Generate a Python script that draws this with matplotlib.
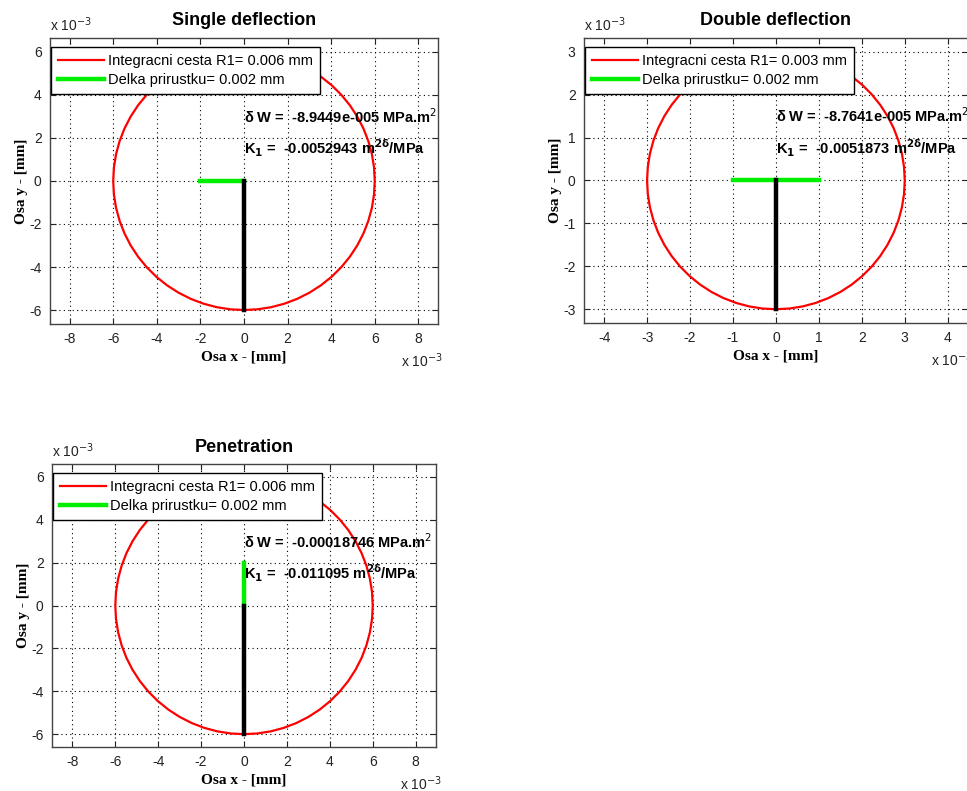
import numpy as np
import matplotlib
matplotlib.use("Agg")
import matplotlib.pyplot as plt

plt.rcParams['font.family'] = ['Liberation Sans', 'DejaVu Sans']

# data for the three cases (values in metres)
titles = ["Single deflection", "Double deflection", "Penetration"]
r1 = [0.006, 0.003, 0.006]                      # radius of integration path
incr_len = [0.002, 0.002, 0.002]                # crack increment length
incr_x = [[-0.002, 0.0], [-0.001, 0.001], [0.0, 0.0]]
incr_y = [[0.0, 0.0], [0.0, 0.0], [0.0, 0.002]]
crack_x = [[0.0, 0.0], [0.0, 0.0], [0.0, 0.0]]
crack_y = [[0.0, -0.006], [0.0, -0.003], [0.0, -0.006]]
dW = ["-8.9449e-005", "-8.7641e-005", "-0.00018746"]
K1 = ["-0.0052943", "-0.0051873", "-0.011095"]

xlims = [0.0089, 0.00447, 0.00895]
ylims = [0.00665, 0.00332, 0.0066]
tick_step = [0.002, 0.001, 0.002]

# axes positions [left, bottom, width, height] in figure fraction
positions = [
    [0.0517, 0.5904, 0.4012, 0.3616],
    [0.6039, 0.5917, 0.3970, 0.3603],
    [0.0538, 0.0556, 0.3971, 0.3578],
]

fig = plt.figure(figsize=(9.67, 7.91), dpi=100)

for i in range(3):
    ax = fig.add_axes(positions[i])
    R = r1[i]
    t = np.linspace(-np.pi / 2, 3 * np.pi / 2, 61)
    ax.plot(R * np.cos(t), R * np.sin(t), color='red', lw=1.6,
            label=f"Integracni cesta R1= {R:g} mm")
    ax.plot(incr_x[i], incr_y[i], color='#00ee00', lw=3.2,
            label=f"Delka prirustku= {incr_len[i]:g} mm")
    ax.plot(crack_x[i], crack_y[i], color='black', lw=3.2)

    ax.set_xlim(-xlims[i], xlims[i])
    ax.set_ylim(-ylims[i], ylims[i])
    st = tick_step[i]
    xt = np.arange(-4, 5) * st
    yt = np.arange(-3, 4) * st
    ax.set_xticks(xt)
    ax.set_yticks(yt)
    ax.set_xticklabels([f"{v * 1e3:g}" for v in xt])
    ax.set_yticklabels([f"{v * 1e3:g}" for v in yt])
    ax.tick_params(direction='in', top=True, right=True, length=4,
                   labelsize=10, colors='#222222', pad=6)
    for sp in ax.spines.values():
        sp.set_color('#444444')
        sp.set_linewidth(1.0)
    ax.grid(True, linestyle=(0, (1, 3)), color='black', lw=0.8)

    ax.set_title(titles[i], fontsize=13, fontweight='bold', pad=9)
    ax.set_xlabel("Osa x - [mm]", family='Liberation Serif',
                  fontweight='bold', fontsize=11, labelpad=3)
    ax.set_ylabel("Osa y - [mm]", family='Liberation Serif',
                  fontweight='bold', fontsize=11, labelpad=1)

    ax.text(0, R / 2, f"δ W =  {dW[i]} MPa.m$^2$", fontsize=10.5,
            fontweight='bold', va='center', ha='left')
    ax.text(0, R / 4, f"K$_\\mathbf{{1}}$ =  {K1[i]} m$^{{\\mathbf{{2δ}}}}$/MPa",
            fontsize=10.5, fontweight='bold', va='center', ha='left')

    ax.text(0.0, 1.015, "x 10$^{-3}$", transform=ax.transAxes,
            fontsize=10, ha='left', va='bottom', color='#222222')
    ax.text(0.905, -0.095, "x 10$^{-3}$", transform=ax.transAxes,
            fontsize=10, ha='left', va='top', color='#222222')

    leg = ax.legend(loc='upper left', bbox_to_anchor=(0.003, 0.968),
                    fontsize=10.5, fancybox=False, framealpha=1,
                    edgecolor='black', handlelength=3.2, borderaxespad=0,
                    borderpad=0.45, labelspacing=0.37, handletextpad=0.25)
    leg.get_frame().set_linewidth(1.0)

fig.savefig("out.png", dpi=100)
